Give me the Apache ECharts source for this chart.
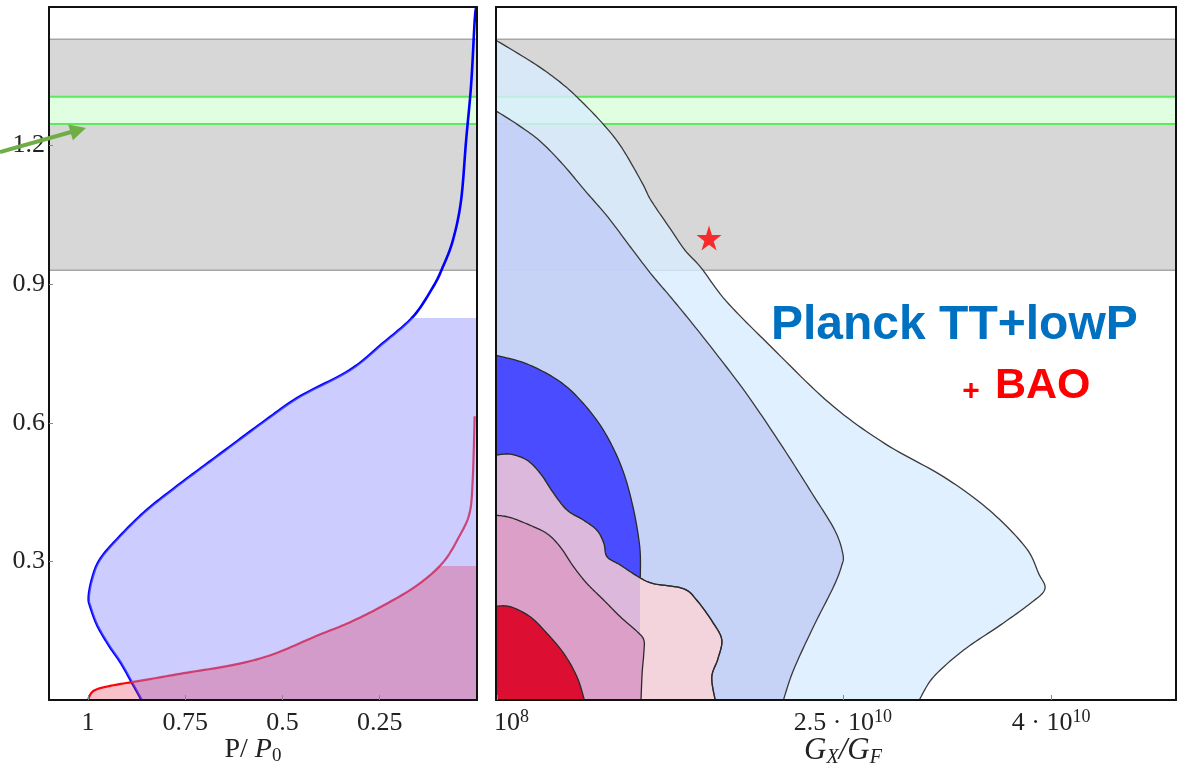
<!DOCTYPE html>
<html><head><meta charset="utf-8">
<script src="https://cdn.jsdelivr.net/npm/echarts@6/dist/echarts.min.js"></script>
<style>html,body{margin:0;padding:0;background:#fff}#c{width:1197px;height:768px}</style>
</head><body><div id="c"></div>
<script>
// ---------- data ----------
const leftXTicks = [1, 0.75, 0.5, 0.25];
const yTicks = [0.3, 0.6, 0.9, 1.2];
const rightXTicks = [0.01, 2.5, 4];               // units of 1e10
const rightXTickMantissa = ['10', '2.5 · 10', '4 · 10'];
const rightXTickExponent = ['8', '10', '10'];
const grayBand = [0.93, 1.43];
const greenBand = [1.247, 1.306];
// left panel: [P/P0, y]
const blueCurve = [[0.862,0],[0.885,0.035],[0.915,0.08],[0.945,0.117],[0.975,0.16],[0.993,0.2],[0.998,0.222],[0.99,0.26],[0.972,0.3],[0.934,0.34],[0.857,0.405],[0.771,0.463],[0.669,0.527],[0.541,0.607],[0.455,0.657],[0.327,0.714],[0.242,0.772],[0.165,0.829],[0.113,0.894],[0.088,0.937],[0.062,0.995],[0.041,1.081],[0.028,1.211],[0.015,1.333],[0.006,1.47],[0.002,1.5]];
const redCurve = [[1.0,0],[0.985,0.02],[0.94,0.031],[0.856,0.043],[0.754,0.058],[0.626,0.076],[0.524,0.099],[0.412,0.139],[0.327,0.168],[0.242,0.204],[0.156,0.247],[0.088,0.297],[0.045,0.355],[0.019,0.405],[0.011,0.477],[0.006,0.614]];
const blueFillTop = 0.827;
const redFillTop = 0.29;
// right panel: [G_X/G_F in 1e10, y]
const planckOuter = [[0,1.428],[0.284,1.376],[0.48,1.333],[0.611,1.297],[0.774,1.246],[0.905,1.196],[1.052,1.12],[1.118,1.081],[1.265,1.016],[1.363,0.973],[1.477,0.936],[1.657,0.864],[1.984,0.764],[2.409,0.641],[2.802,0.555],[3.226,0.483],[3.554,0.411],[3.815,0.331],[3.91,0.274],[3.955,0.24],[3.85,0.209],[3.634,0.162],[3.37,0.108],[3.153,0.05],[3.05,0]];
const planckInner = [[0,1.275],[0.153,1.246],[0.316,1.21],[0.48,1.16],[0.643,1.102],[0.807,1.045],[0.97,0.98],[1.118,0.922],[1.281,0.864],[1.494,0.785],[1.788,0.67],[2.049,0.555],[2.278,0.447],[2.442,0.367],[2.5,0.315],[2.49,0.29],[2.432,0.245],[2.288,0.159],[2.144,0.065],[2.071,0]];
const darkBlue = [[0,0.746],[0.218,0.728],[0.447,0.692],[0.611,0.648],[0.774,0.584],[0.905,0.504],[0.987,0.418],[1.036,0.331],[1.04,0.266]];
const darkBlueClose = [[1.04,0],[0,0]];
const bao2 = [[0,0.53],[0.103,0.532],[0.224,0.519],[0.32,0.49],[0.416,0.447],[0.512,0.411],[0.632,0.389],[0.728,0.367],[0.777,0.339],[0.8,0.31],[0.896,0.292],[1.029,0.266],[1.134,0.252],[1.35,0.241],[1.447,0.216],[1.567,0.166],[1.627,0.13],[1.6,0.09],[1.555,0.05],[1.579,0]];
const baoSplitX = 1.038;
const bao1 = [[0,0.4],[0.103,0.395],[0.247,0.378],[0.368,0.36],[0.464,0.331],[0.56,0.288],[0.656,0.252],[0.777,0.216],[0.896,0.18],[1.017,0.148],[1.065,0.13],[1.065,0.101],[1.053,0.058],[1.045,0]];
const baoCore = [[0,0.203],[0.103,0.202],[0.247,0.18],[0.368,0.144],[0.488,0.101],[0.584,0.05],[0.637,0]];
const starPoint = [[1.535, 1.0]];

// ---------- helpers ----------
const LX = [0, 1.1], RX = [0, 4.9], YR = [0, 1.5];
function spline(pts, n) {
  const out = [];
  for (let i = 0; i < pts.length - 1; i++) {
    const p0 = pts[Math.max(i - 1, 0)], p1 = pts[i], p2 = pts[i + 1], p3 = pts[Math.min(i + 2, pts.length - 1)];
    for (let k = 0; k < n; k++) {
      const t = k / n, t2 = t * t, t3 = t2 * t;
      out.push([0, 1].map(d => 0.5 * (2 * p1[d] + (-p0[d] + p2[d]) * t + (2 * p0[d] - 5 * p1[d] + 4 * p2[d] - p3[d]) * t2 + (-p0[d] + 3 * p1[d] - 3 * p2[d] + p3[d]) * t3)));
    }
  }
  out.push(pts[pts.length - 1].slice());
  return out;
}
function cutAtY(dense, cutPy) {
  const out = [];
  for (let i = 0; i < dense.length; i++) {
    const p = dense[i];
    if (p[1] >= cutPy) out.push(p);
    else { const q = dense[i - 1]; const t = (q[1] - cutPy) / (q[1] - p[1]); out.push([q[0] + (p[0] - q[0]) * t, cutPy]); break; }
  }
  return out;
}
function cutAtX(dense, cutPx) {
  const out = [];
  for (let i = 0; i < dense.length; i++) {
    const p = dense[i];
    if (p[0] <= cutPx) out.push(p);
    else { const q = dense[i - 1]; const t = (cutPx - q[0]) / (p[0] - q[0]); out.push([cutPx, q[1] + (p[1] - q[1]) * t]); break; }
  }
  return out;
}
function base(g, data) {
  return { type: 'custom', xAxisIndex: g, yAxisIndex: g, data: data, encode: { x: 0, y: 1 }, silent: true, animation: false };
}
function bandSeries(g, band, xr, fill, stroke, lw) {
  return Object.assign(base(g, [band]), {
    encode: { x: -1, y: -1 },
    renderItem(params, api) {
      const a = api.coord([xr[0], band[1]]), b = api.coord([xr[1], band[0]]);
      const x0 = Math.min(a[0], b[0]), x1 = Math.max(a[0], b[0]);
      return { type: 'group', children: [
        { type: 'rect', shape: { x: x0, y: a[1], width: x1 - x0, height: b[1] - a[1] }, style: { fill: fill } },
        { type: 'line', shape: { x1: x0, y1: a[1], x2: x1, y2: a[1] }, style: { stroke: stroke, lineWidth: lw } },
        { type: 'line', shape: { x1: x0, y1: b[1], x2: x1, y2: b[1] }, style: { stroke: stroke, lineWidth: lw } }
      ] };
    }
  });
}
function curveSeries(g, curve, color, lw) {
  return Object.assign(base(g, curve), {
    renderItem(params, api) {
      if (params.dataIndex !== 0) return null;
      const dense = spline(curve.map(p => api.coord(p)), 12);
      return { type: 'polyline', shape: { points: dense }, style: { stroke: color, lineWidth: lw, fill: 'none' } };
    }
  });
}
function profileFill(g, curve, top, fill) {
  return Object.assign(base(g, curve), {
    renderItem(params, api) {
      if (params.dataIndex !== 0) return null;
      const dense = spline(curve.map(p => api.coord(p)), 12);
      const cp = api.coord([0, top]);
      const pts = cutAtY(dense, cp[1]).concat([cp, api.coord([0, 0])]);
      return { type: 'polygon', shape: { points: pts }, style: { fill: fill } };
    }
  });
}
function regionSeries(g, curve, closePts, fill, stroke, splitX) {
  return Object.assign(base(g, curve), {
    renderItem(params, api) {
      if (params.dataIndex !== 0) return null;
      let dense = spline(curve.map(p => api.coord(p)), 12);
      let pts;
      if (splitX != null) {
        const sx = api.coord([splitX, 0]);
        const cut = cutAtX(dense, sx[0]);
        pts = cut.concat([sx, api.coord([0, 0])]);
      } else {
        pts = dense.concat(closePts.map(p => api.coord(p)));
      }
      const children = [{ type: 'polygon', shape: { points: pts }, style: { fill: fill } }];
      if (stroke) children.push({ type: 'polyline', shape: { points: dense }, style: { stroke: stroke, lineWidth: 1.3, fill: 'none' } });
      return { type: 'group', children: children };
    }
  });
}

// ---------- chart ----------
const serif = '"Liberation Serif", "Times New Roman", serif';
const tickFont = { fontFamily: serif, fontSize: 26, color: '#222' };
const frameLine = { show: true, onZero: false, lineStyle: { color: '#111', width: 2 } };
const frameAxis = (g, pos, isX) => Object.assign({ gridIndex: g, type: 'value', position: pos, z: 10,
  min: isX ? (g === 0 ? LX[0] : RX[0]) : YR[0], max: isX ? (g === 0 ? LX[1] : RX[1]) : YR[1],
  axisLine: frameLine, axisTick: { show: false }, axisLabel: { show: false }, splitLine: { show: false } });

const option = {
  backgroundColor: '#fff',
  animation: false,
  grid: [
    { left: 49, top: 7, width: 428, height: 693, containLabel: false, outerBoundsMode: 'none' },
    { left: 496, top: 7, width: 680, height: 693, containLabel: false, outerBoundsMode: 'none' }
  ],
  xAxis: [
    { gridIndex: 0, type: 'value', min: LX[0], max: LX[1], inverse: true, position: 'bottom', z: 10,
      axisLine: frameLine,
      axisTick: { inside: true, length: 5, customValues: leftXTicks, lineStyle: { color: '#888' } },
      axisLabel: Object.assign({ customValues: leftXTicks, margin: 10, formatter: v => String(v) }, tickFont),
      splitLine: { show: false },
      name: '{r|P/ }{i|P}{s|0}', nameLocation: 'middle', nameGap: 34, nameMoveOverlap: false,
      nameTextStyle: { padding: [0, 20, 0, 0], rich: {
        r: { fontFamily: serif, fontSize: 28, color: '#222', lineHeight: 32 },
        i: { fontFamily: serif, fontStyle: 'italic', fontSize: 28, color: '#222', lineHeight: 32 },
        s: { fontFamily: serif, fontSize: 19, color: '#222', lineHeight: 21, verticalAlign: 'bottom' } } } },
    { gridIndex: 1, type: 'value', min: RX[0], max: RX[1], position: 'bottom', z: 10,
      axisLine: frameLine,
      axisTick: { inside: true, length: 5, customValues: rightXTicks, lineStyle: { color: '#888' } },
      axisLabel: { customValues: rightXTicks, margin: 8,
        formatter: v => { const i = rightXTicks.indexOf(v); if (i < 0) return ''; return (i === 0 ? '{m0|' : '{m|') + rightXTickMantissa[i] + '}{e|' + rightXTickExponent[i] + '}'; },
        rich: {
          m: { fontFamily: serif, fontSize: 26, color: '#222', lineHeight: 30 },
          m0: { fontFamily: serif, fontSize: 26, color: '#222', lineHeight: 30, padding: [0, 0, 0, 28] },
          e: { fontFamily: serif, fontSize: 18, color: '#222', lineHeight: 18, verticalAlign: 'top' } } },
      splitLine: { show: false },
      name: '{i|G}{s|X}{i|/G}{s|F}', nameLocation: 'middle', nameGap: 34, nameMoveOverlap: false,
      nameTextStyle: { padding: [0, 0, 0, 14], rich: {
        i: { fontFamily: serif, fontStyle: 'italic', fontSize: 31, color: '#222', lineHeight: 34 },
        s: { fontFamily: serif, fontStyle: 'italic', fontSize: 20, color: '#222', lineHeight: 22, verticalAlign: 'bottom' } } } },
    frameAxis(0, 'top', true),
    frameAxis(1, 'top', true)
  ],
  yAxis: [
    { gridIndex: 0, type: 'value', min: YR[0], max: YR[1], z: 10, axisLine: frameLine,
      axisTick: { inside: true, length: 4, customValues: yTicks, lineStyle: { color: '#888' } },
      axisLabel: Object.assign({ customValues: yTicks, margin: 4, formatter: v => v.toFixed(1) }, tickFont),
      splitLine: { show: false } },
    { gridIndex: 1, type: 'value', min: YR[0], max: YR[1], z: 10, axisLine: frameLine,
      axisTick: { show: false }, axisLabel: { show: false }, splitLine: { show: false } },
    frameAxis(0, 'right', false),
    frameAxis(1, 'right', false)
  ],
  series: [
    // left panel
    bandSeries(0, grayBand, LX, '#d7d7d7', '#a6a6a6', 1.5),
    bandSeries(0, greenBand, LX, '#e0ffe0', '#5fe85f', 2),
    curveSeries(0, blueCurve, '#0000ff', 2.6),
    curveSeries(0, redCurve, '#ff0000', 2.2),
    profileFill(0, blueCurve, blueFillTop, 'rgba(146,146,255,0.47)'),
    profileFill(0, redCurve, redFillTop, 'rgba(230,30,60,0.28)'),
    // right panel
    bandSeries(1, grayBand, RX, '#d7d7d7', '#a6a6a6', 1.5),
    bandSeries(1, greenBand, RX, '#e0ffe0', '#5fe85f', 2),
    regionSeries(1, planckOuter, [[0, 0]], 'rgba(216,236,255,0.8)', '#3a3a3a'),
    regionSeries(1, planckInner, [[0, 0]], 'rgba(194,205,246,0.85)', '#3a3a3a'),
    regionSeries(1, darkBlue, darkBlueClose, '#4a4cff', '#2a2a2a'),
    regionSeries(1, bao2, [[0, 0]], '#f4d4dc', '#444'),
    regionSeries(1, bao2, null, '#dcb8dc', '#2a2a2a', baoSplitX),
    regionSeries(1, bao1, [[0, 0]], '#dca0c8', '#2a2a2a'),
    regionSeries(1, baoCore, [[0, 0]], '#dc0f32', '#2a2a2a'),
    { type: 'scatter', xAxisIndex: 1, yAxisIndex: 1, data: starPoint, silent: true, z: 5,
      symbol: 'path://M50,0 L61,35 L98,35 L68,57 L79,91 L50,70 L21,91 L32,57 L2,35 L39,35 Z',
      symbolSize: 25, itemStyle: { color: '#ff0000' } }
  ],
  graphic: [
    { type: 'line', z: 100, shape: { x1: 0, y1: 152, x2: 71, y2: 132 }, style: { stroke: '#70ad47', lineWidth: 4 } },
    { type: 'polygon', z: 100, shape: { points: [[86, 128], [68.2, 124.4], [72.9, 140.2]] }, style: { fill: '#70ad47' } },
    { type: 'text', z: 100, x: 771, y: 326, style: { text: 'Planck TT+lowP', font: 'bold 48px "Liberation Sans", Arial, sans-serif', fill: '#0070c0', textAlign: 'left', textVerticalAlign: 'middle' } },
    { type: 'text', z: 100, x: 971, y: 392, style: { text: '+', font: 'bold 30px "Liberation Sans", Arial, sans-serif', fill: '#ff0000', textAlign: 'center', textVerticalAlign: 'middle' } },
    { type: 'text', z: 100, x: 995, y: 386, style: { text: 'BAO', font: 'bold 43px "Liberation Sans", Arial, sans-serif', fill: '#ff0000', textAlign: 'left', textVerticalAlign: 'middle' } }
  ]
};
const chart = echarts.init(document.getElementById('c'), null, { renderer: 'canvas' });
chart.setOption(option);
</script>
</body></html>
